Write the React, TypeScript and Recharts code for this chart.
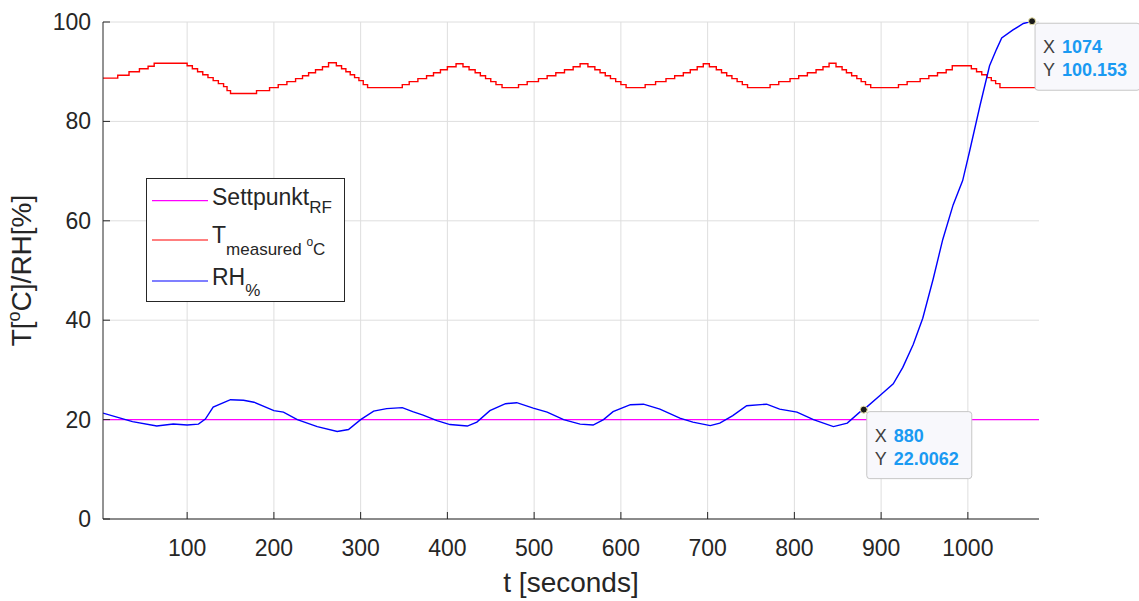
import React from 'react';
import { LineChart, Line, XAxis, YAxis, CartesianGrid, ReferenceDot, Label } from 'recharts';

const AXIS = '#262626';
const GRID = '#dedede';
const FONT = '"Liberation Sans", Arial, Helvetica, sans-serif';

// axis setup
const xDomain = [3, 1082];
const yDomain = [0, 100];
const xTicks = [100, 200, 300, 400, 500, 600, 700, 800, 900, 1000];
const yTicks = [0, 20, 40, 60, 80, 100];

// setpoint (constant)
const spTime = [3, 1082];
const spValue = [20, 20];

// measured temperature (staircase)
const tempTime = [
  3, 20, 33, 45, 55, 62, 100, 106, 112, 118, 124, 130, 136, 142, 146, 150,
  180, 195, 205, 215, 225, 233, 240, 248, 256, 263, 272, 278, 283, 288, 293, 298, 303, 308,
  348, 356, 366, 376, 384, 392, 400, 410, 418, 425, 432, 438, 444, 450, 456, 463,
  482, 492, 505, 515, 525, 535, 545, 553, 562, 570, 576, 582, 588, 594, 600, 606,
  628, 640, 652, 662, 672, 680, 688, 695, 702, 710, 716, 722, 728, 734, 740, 746,
  772, 782, 795, 805, 815, 825, 833, 840, 848, 855, 860, 866, 872, 877, 882, 888,
  920, 930, 945, 955, 965, 975, 982, 1004, 1010, 1016, 1022, 1027, 1032, 1037, 1082,
];
const tempValue = [
  88.7, 89.3, 90.0, 90.6, 91.1, 91.7, 91.2, 90.6, 90.0, 89.4, 88.8, 88.2, 87.6, 87.0, 86.2, 85.6,
  86.2, 86.8, 87.4, 88.0, 88.6, 89.2, 89.8, 90.4, 91.0, 91.8, 91.2, 90.6, 90.0, 89.4, 88.8, 88.2, 87.4, 86.8,
  87.4, 88.0, 88.6, 89.2, 89.8, 90.4, 91.0, 91.6, 91.0, 90.4, 89.8, 89.2, 88.6, 88.0, 87.4, 86.8,
  87.4, 88.0, 88.6, 89.2, 89.8, 90.4, 91.0, 91.6, 91.0, 90.4, 89.8, 89.2, 88.6, 88.0, 87.4, 86.8,
  87.4, 88.0, 88.6, 89.2, 89.8, 90.4, 91.0, 91.6, 91.0, 90.4, 89.8, 89.2, 88.6, 88.0, 87.4, 86.8,
  87.4, 88.0, 88.6, 89.2, 89.8, 90.4, 91.0, 91.7, 91.0, 90.4, 89.8, 89.2, 88.6, 88.0, 87.4, 86.8,
  87.4, 88.0, 88.6, 89.2, 89.8, 90.4, 91.2, 90.6, 90.0, 89.4, 88.8, 88.2, 87.6, 86.8, 86.8,
];

// relative humidity
const rhTime = [
  3, 23, 37, 65, 84, 100, 113, 121, 130, 150, 165, 177, 200, 211, 227, 250, 273, 286, 300, 315,
  330, 348, 360, 372, 388, 403, 423, 434, 449, 467, 480, 499, 515, 534, 553, 568, 580, 591,
  611, 626, 645, 668, 683, 703, 714, 729, 745, 768, 783, 803, 822, 845, 861, 876, 880,
  899, 914, 925, 937, 948, 960, 971, 983, 994, 1002, 1014, 1025, 1033, 1039, 1052, 1064, 1074,
];
const rhValue = [
  21.3, 20.3, 19.6, 18.7, 19.1, 18.9, 19.1, 20.1, 22.5, 24.0, 23.9, 23.5, 21.8, 21.5, 20.0, 18.6, 17.6, 18.0, 20.0, 21.7,
  22.2, 22.4, 21.6, 20.9, 19.8, 19.0, 18.7, 19.5, 21.8, 23.2, 23.4, 22.3, 21.5, 20.0, 19.1, 18.9, 20.0, 21.6,
  23.0, 23.1, 22.1, 20.3, 19.5, 18.8, 19.3, 20.8, 22.8, 23.1, 22.1, 21.5, 20.0, 18.6, 19.3, 21.6, 22.0062,
  24.9, 27.2, 30.5, 35.1, 40.4, 48.3, 56.2, 63.2, 68.1, 74.0, 83.2, 91.2, 94.5, 96.8, 98.4, 99.7, 100.153,
];

// data tips
const tipX = [880, 1074];
const tipY = [22.0062, 100.153];
const tipLabelY = ['22.0062', '100.153'];

const spData = spTime.map((t, i) => ({ t, v: spValue[i] }));
const tempData = tempTime.map((t, i) => ({ t, v: tempValue[i] }));
const rhData = rhTime.map((t, i) => ({ t, v: rhValue[i] }));

const BottomTick = (props: any) => {
  const { x, y, payload } = props;
  return (
    <g>
      <line x1={x} x2={x} y1={y} y2={y - 7} stroke={AXIS} />
      <text x={x} y={y + 37} textAnchor="middle" fontSize={23} fill={AXIS} fontFamily={FONT}>
        {payload.value}
      </text>
    </g>
  );
};

const LeftTick = (props: any) => {
  const { x, y, payload } = props;
  return (
    <g>
      <line x1={x} x2={x + 7} y1={y} y2={y} stroke={AXIS} />
      <text x={x - 12} y={y + 8} textAnchor="end" fontSize={23} fill={AXIS} fontFamily={FONT}>
        {payload.value}
      </text>
    </g>
  );
};

const TopTick = (props: any) => {
  const { x, y } = props;
  return <line x1={x} x2={x} y1={y} y2={y + 7} stroke={AXIS} />;
};

const RightTick = (props: any) => {
  const { x, y } = props;
  return <line x1={x} x2={x - 7} y1={y} y2={y} stroke={AXIS} />;
};

const XLabel = (props: any) => {
  const { viewBox } = props;
  return (
    <text x={viewBox.x + viewBox.width / 2} y={viewBox.y + 73} textAnchor="middle" fontSize={28} fill={AXIS} fontFamily={FONT}>
      t [seconds]
    </text>
  );
};

const YLabel = (props: any) => {
  const { viewBox } = props;
  const cx = viewBox.x - 12;
  const cy = viewBox.y + viewBox.height / 2;
  return (
    <text
      x={cx}
      y={cy}
      transform={`rotate(-90, ${cx}, ${cy})`}
      textAnchor="middle"
      fontSize={28}
      fill={AXIS}
      fontFamily={FONT}
    >
      T[<tspan fontSize={18} dy={-11}>o</tspan>
      <tspan dy={11}>C]/RH[%]</tspan>
    </text>
  );
};

const DataTip = (props: any) => {
  const { cx, cy, xv, yv } = props;
  return (
    <g fontFamily={FONT}>
      <rect x={cx + 3} y={cy + 2} width={105} height={67} rx={3} fill="#f8f8fc" stroke="#c6c6c6" />
      <text x={cx + 11} y={cy + 32} fontSize={18} fill="#404040">X</text>
      <text x={cx + 30} y={cy + 32} fontSize={18} fontWeight="bold" fill="#1a9af2">{xv}</text>
      <text x={cx + 11} y={cy + 55} fontSize={18} fill="#404040">Y</text>
      <text x={cx + 30} y={cy + 55} fontSize={18} fontWeight="bold" fill="#1a9af2">{yv}</text>
      <circle cx={cx} cy={cy} r={3.5} fill="#1a1a1a" stroke="#e9e2a8" strokeWidth={1} />
    </g>
  );
};

const ChartLegend = () => (
  <svg
    width={200}
    height={125}
    style={{ position: 'absolute', left: 146, top: 178 }}
    fontFamily={FONT}
  >
    <rect x={0.5} y={0.5} width={198} height={123} fill="#ffffff" stroke={AXIS} />
    <line x1={6} x2={62} y1={22.7} y2={22.7} stroke="#ff00ff" strokeWidth={1.2} />
    <text x={66} y={27} fontSize={23} fill={AXIS}>
      Settpunkt<tspan fontSize={17} dy={8}>RF</tspan>
    </text>
    <line x1={6} x2={62} y1={62} y2={62} stroke="#ff0000" strokeWidth={1.2} />
    <text x={66} y={65} fontSize={23} fill={AXIS}>
      T<tspan fontSize={17} dy={12}>measured </tspan>
      <tspan fontSize={12} dy={-9}>o</tspan>
      <tspan fontSize={17} dy={9}>C</tspan>
    </text>
    <line x1={6} x2={62} y1={103} y2={103} stroke="#0000ff" strokeWidth={1.2} />
    <text x={66} y={107} fontSize={23} fill={AXIS}>
      RH<tspan fontSize={17} dy={11}>%</tspan>
    </text>
  </svg>
);

export default function App() {
  return (
    <div style={{ position: 'absolute', left: 0, top: 0, width: 1139, height: 601, background: '#fff' }}>
      <LineChart width={1139} height={601} margin={{ top: 22, right: 100, bottom: 40, left: 43 }}>
        <CartesianGrid stroke={GRID} strokeWidth={1} horizontalValues={yTicks} verticalValues={xTicks} />
        <XAxis
          dataKey="t"
          type="number"
          domain={xDomain}
          allowDataOverflow
          ticks={xTicks}
          height={42}
          tickSize={0}
          tickMargin={0}
          tickLine={false}
          tick={BottomTick}
          axisLine={{ stroke: AXIS }}
        >
          <Label content={XLabel} />
        </XAxis>
        <XAxis
          xAxisId="top"
          orientation="top"
          type="number"
          domain={xDomain}
          allowDataOverflow
          ticks={xTicks}
          height={0}
          tickSize={0}
          tickMargin={0}
          tickLine={false}
          tick={TopTick}
          axisLine={{ stroke: AXIS }}
        />
        <YAxis
          type="number"
          domain={yDomain}
          allowDataOverflow
          ticks={yTicks}
          width={60}
          tickSize={0}
          tickMargin={0}
          tickLine={false}
          tick={LeftTick}
          axisLine={{ stroke: AXIS }}
        >
          <Label content={YLabel} />
        </YAxis>
        <YAxis
          yAxisId="right"
          orientation="right"
          type="number"
          domain={yDomain}
          allowDataOverflow
          ticks={yTicks}
          width={0}
          tickSize={0}
          tickMargin={0}
          tickLine={false}
          tick={RightTick}
          axisLine={{ stroke: AXIS }}
        />
        <Line
          data={spData}
          dataKey="v"
          name="Settpunkt RF"
          type="linear"
          stroke="#ff00ff"
          strokeWidth={1.4}
          dot={false}
          isAnimationActive={false}
        />
        <Line
          data={tempData}
          dataKey="v"
          name="T measured"
          type="stepAfter"
          stroke="#ff0000"
          strokeWidth={1.4}
          dot={false}
          isAnimationActive={false}
        />
        <Line
          data={rhData}
          dataKey="v"
          name="RH"
          type="linear"
          stroke="#0000ff"
          strokeWidth={1.4}
          dot={false}
          isAnimationActive={false}
        />
        {tipX.map((x, i) => (
          <ReferenceDot
            key={x}
            x={x}
            y={tipY[i]}
            ifOverflow="visible"
            shape={(p: any) => <DataTip cx={p.cx} cy={p.cy} xv={String(x)} yv={tipLabelY[i]} />}
          />
        ))}
      </LineChart>
      <ChartLegend />
    </div>
  );
}
